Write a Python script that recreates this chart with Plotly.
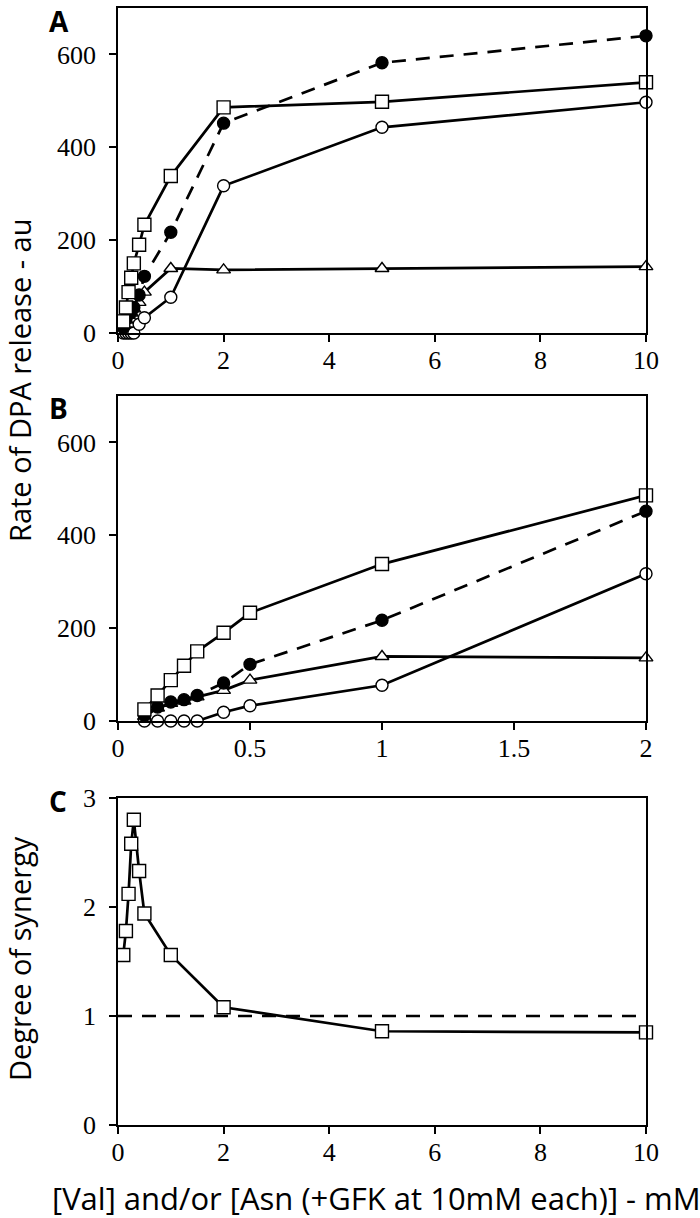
import plotly.graph_objects as go

# ---- data ----
conc = [0.1, 0.15, 0.2, 0.25, 0.3, 0.4, 0.5, 1, 2, 5, 10]          # mM
val_asn_gfk = [25, 55, 88, 119, 150, 190, 233, 338, 486, 498, 540]  # open squares
val_only = [12, 30, 41, 46, 55, 82, 122, 217, 452, 582, 640]         # filled circles (dashed)
asn_gfk = [0, 0, 0, 0, 0, 19, 33, 77, 317, 443, 497]                 # open circles
val_b = [10, 28, 38, 43, 52, 66, 88, 139, 136, 139, 143]              # open triangles
synergy = [1.56, 1.78, 2.12, 2.58, 2.80, 2.33, 1.94, 1.56, 1.08, 0.86, 0.85]
ref_x = [0, 10]
ref_y = [1, 1]

xticks_A = [0, 2, 4, 6, 8, 10]
yticks_AB = [0, 200, 400, 600]
xticks_B = [0, 0.5, 1, 1.5, 2]
xticklabels_B = ["0", "0.5", "1", "1.5", "2"]
yticks_C = [0, 1, 2, 3]

fig = go.Figure()

LW = 2.7
MS = 12
MLW = 1.4
DASH = "14px,10px"


def add_series(xs, ys, xa, ya, symbol, fill, dash="solid"):
    fig.add_trace(go.Scatter(
        x=xs, y=ys, xaxis=xa, yaxis=ya, mode="lines+markers",
        line=dict(color="black", width=LW, dash=dash),
        marker=dict(symbol=symbol, size=MS if symbol != "square" else MS + 1,
                    color=fill, line=dict(color="black", width=MLW)),
        cliponaxis=False, showlegend=False, hoverinfo="skip"))


nB = 9  # points up to 2 mM for panel B
for xa, ya, n in (("x", "y", len(conc)), ("x2", "y2", nB)):
    add_series(conc[:n], val_b[:n], xa, ya, "triangle-up", "white")
    add_series(conc[:n], asn_gfk[:n], xa, ya, "circle", "white")
    add_series(conc[:n], val_only[:n], xa, ya, "circle", "black", dash=DASH)
    add_series(conc[:n], val_asn_gfk[:n], xa, ya, "square", "white")

fig.add_trace(go.Scatter(x=ref_x, y=ref_y, xaxis="x3", yaxis="y3", mode="lines",
                         line=dict(color="black", width=LW, dash=DASH),
                         showlegend=False, hoverinfo="skip"))
add_series(conc, synergy, "x3", "y3", "square", "white")

TICKFONT = dict(family="Liberation Serif, Times New Roman, serif", size=26, color="black")
common = dict(showgrid=False, zeroline=False, showline=True, linecolor="black",
              linewidth=1.5, mirror=True, ticks="outside", ticklen=7,
              tickwidth=1.5, tickcolor="black", tickfont=TICKFONT, automargin=False)

PLOT_TOP, PLOT_BOT = 8, 1125
H = PLOT_BOT - PLOT_TOP


def dom(top_px, bot_px):
    return [(PLOT_BOT - bot_px) / H, (PLOT_BOT - top_px) / H]


XSO = -4
YSO = 8
fig.update_layout(
    width=700, height=1218,
    margin=dict(l=118, r=54, t=PLOT_TOP, b=1218 - PLOT_BOT, autoexpand=False),
    paper_bgcolor="white", plot_bgcolor="white",
    xaxis=dict(domain=[0, 1], range=[0, 10], tickvals=xticks_A, anchor="y",
               ticklabelstandoff=XSO, **common),
    yaxis=dict(domain=dom(8, 333), range=[0, 700], tickvals=yticks_AB, anchor="x",
               ticklabelstandoff=YSO, **common),
    xaxis2=dict(domain=[0, 1], range=[0, 2], tickvals=xticks_B, ticktext=xticklabels_B,
                anchor="y2", ticklabelstandoff=XSO, **common),
    yaxis2=dict(domain=dom(396, 721), range=[0, 700], tickvals=yticks_AB, anchor="x2",
                ticklabelstandoff=YSO, **common),
    xaxis3=dict(domain=[0, 1], range=[0, 10], tickvals=xticks_A, anchor="y3",
                ticklabelstandoff=XSO, **common),
    yaxis3=dict(domain=dom(798, 1125), range=[0, 3], tickvals=yticks_C, anchor="x3",
                ticklabelstandoff=YSO, **common),
)


def py(px):
    return (PLOT_BOT - px) / H


def pxx(px):
    return (px - 118) / 528


SANS = "Open Sans"
ann = []
for lab, x, y in (("A", 59, 21), ("B", 58, 408), ("C", 58, 801)):
    ann.append(dict(text="<b>" + lab + "</b>", x=pxx(x), y=py(y), xref="paper", yref="paper",
                    xanchor="center", yanchor="middle", showarrow=False,
                    font=dict(family=SANS, size=28, color="black")))
ann.append(dict(text="Rate of DPA release - au", x=pxx(19), y=py(380), xref="paper",
                yref="paper", xanchor="center", yanchor="middle", textangle=-90,
                showarrow=False, font=dict(family=SANS, size=29, color="black")))
ann.append(dict(text="Degree of synergy", x=pxx(19), y=py(959), xref="paper",
                yref="paper", xanchor="center", yanchor="middle", textangle=-90,
                showarrow=False, font=dict(family=SANS, size=29, color="black")))
ann.append(dict(text="[Val] and/or [Asn (+GFK at 10mM each)] - mM", x=pxx(376), y=py(1198),
                xref="paper", yref="paper", xanchor="center", yanchor="middle",
                showarrow=False, font=dict(family=SANS, size=31, color="black")))
fig.update_layout(annotations=ann)

fig.write_html("out.html", config={"displayModeBar": False},
               post_script="document.body.style.margin='0';document.body.style.padding='0';")
